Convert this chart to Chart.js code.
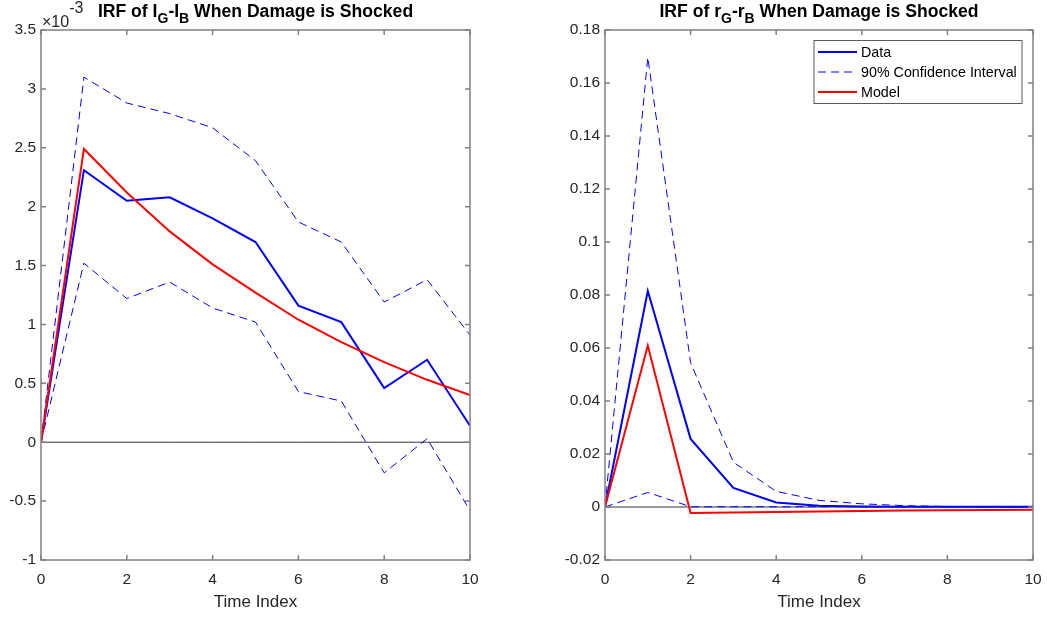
<!DOCTYPE html>
<html>
<head>
<meta charset="utf-8">
<script src="https://cdn.jsdelivr.net/npm/chart.js@4.4.1/dist/chart.umd.min.js"></script>
<style>
html, body { margin: 0; padding: 0; background: #fff; }
#wrap { position: relative; width: 1047px; height: 617px; overflow: hidden; }
canvas { position: absolute; top: 0; }
</style>
</head>
<body>
<div id="wrap">
  <canvas id="left" width="500" height="617" style="left:0px"></canvas>
  <canvas id="right" width="500" height="617" style="left:555px"></canvas>
</div>
<script>
// x axis (same for both panels)
const timeIndex = [0, 1, 2, 3, 4, 5, 6, 7, 8, 9, 10];

// left panel: I_G - I_B, values in units of 1e-3
const leftData  = [0, 2.31, 2.05, 2.08, 1.90, 1.70, 1.16, 1.02, 0.46, 0.70, 0.14];
const leftUpper = [0, 3.10, 2.88, 2.79, 2.67, 2.39, 1.87, 1.70, 1.19, 1.38, 0.91];
const leftLower = [0, 1.52, 1.22, 1.36, 1.14, 1.02, 0.43, 0.35, -0.26, 0.03, -0.58];
const leftModel = [0, 2.49, 2.12, 1.79, 1.51, 1.27, 1.04, 0.85, 0.68, 0.53, 0.40];

// right panel: r_G - r_B
const rightData  = [0, 0.0815, 0.0257, 0.0072, 0.0017, 0.0005, 0.0002, 0.0001, 0.0001, 0.0001, 0.0001];
const rightUpper = [0, 0.1697, 0.0544, 0.0169, 0.0059, 0.0025, 0.0012, 0.0005, 0.0002, 0.0001, 0.0001];
const rightLower = [0, 0.0055, 0.0001, 0.0001, 0.0001, 0.0001, 0.0001, 0.0001, 0.0001, 0.0001, 0.0001];
const rightModel = [0, 0.0609, -0.0023, -0.0021, -0.0019, -0.0017, -0.0015, -0.0013, -0.0012, -0.0011, -0.0010];

const zeroLine = [0, 0, 0, 0, 0, 0, 0, 0, 0, 0, 0];

const legendLabels = ['Data', '90% Confidence Interval', 'Model'];

const FONT = '"Liberation Sans", Arial, Helvetica, sans-serif';
const TEXT = '#262626';
const AXIS = '#808080';

const pts = arr => arr.map((v, i) => ({x: timeIndex[i], y: v}));

function makeDatasets(d, up, lo, mod) {
  return [
    {label: legendLabels[0], data: pts(d), borderColor: '#0000ff', borderWidth: 2, order: 2},
    {label: legendLabels[1], data: pts(up), borderColor: '#0000ff', borderWidth: 1, borderDash: [8, 5], order: 3},
    {label: '', data: pts(lo), borderColor: '#0000ff', borderWidth: 1, borderDash: [8, 5], order: 4},
    {label: legendLabels[2], data: pts(mod), borderColor: '#ff0000', borderWidth: 2, order: 1},
    {label: '', data: pts(zeroLine), borderColor: '#333333', borderWidth: 1, order: 5}
  ];
}

// axes box with inward ticks on all four sides
const framePlugin = {
  id: 'frame',
  afterDatasetsDraw(chart) {
    const {ctx, chartArea: a, scales: {x, y}} = chart;
    ctx.save();
    ctx.strokeStyle = AXIS;
    ctx.lineWidth = 1.5;
    ctx.strokeRect(a.left, a.top, a.right - a.left, a.bottom - a.top);
    ctx.beginPath();
    x.ticks.forEach(t => {
      const px = x.getPixelForValue(t.value);
      ctx.moveTo(px, a.bottom); ctx.lineTo(px, a.bottom - 5);
      ctx.moveTo(px, a.top); ctx.lineTo(px, a.top + 5);
    });
    y.ticks.forEach(t => {
      const py = y.getPixelForValue(t.value);
      ctx.moveTo(a.left, py); ctx.lineTo(a.left + 5, py);
      ctx.moveTo(a.right, py); ctx.lineTo(a.right - 5, py);
    });
    ctx.stroke();
    ctx.restore();
  }
};

// bold title with subscripts, plus optional exponent label
const titlePlugin = {
  id: 'irfTitle',
  afterDraw(chart, args, opts) {
    const {ctx, chartArea: a} = chart;
    const big = 'bold 17.6px ' + FONT, small = 'bold 14px ' + FONT;
    ctx.save();
    ctx.fillStyle = '#000';
    ctx.textBaseline = 'alphabetic';
    ctx.textAlign = 'left';
    let w = 0;
    opts.parts.forEach(p => { ctx.font = p[1] ? small : big; w += ctx.measureText(p[0]).width; });
    let x = (a.left + a.right) / 2 - w / 2;
    opts.parts.forEach(p => {
      ctx.font = p[1] ? small : big;
      ctx.fillText(p[0], x, p[1] ? 22.7 : 16.7);
      x += ctx.measureText(p[0]).width;
    });
    if (opts.exp) {
      ctx.fillStyle = TEXT;
      ctx.font = '16px ' + FONT;
      const base = '\u00d710';
      ctx.fillText(base, a.left + 1, 27.3);
      ctx.fillText(opts.exp, a.left + 1 + ctx.measureText(base).width, 13.3);
    }
    ctx.restore();
  }
};

// boxed legend inside the plot area
const boxLegendPlugin = {
  id: 'boxLegend',
  afterDraw(chart, args, opts) {
    if (!opts.show) return;
    const {ctx, chartArea: a} = chart;
    const items = chart.data.datasets.filter(d => d.label);
    const bx = a.right - 219, by = a.top + 10.5, bw = 208, bh = 63;
    ctx.save();
    ctx.fillStyle = '#fff';
    ctx.fillRect(bx, by, bw, bh);
    ctx.strokeStyle = '#5a5a5a';
    ctx.lineWidth = 1;
    ctx.strokeRect(bx, by, bw, bh);
    ctx.font = '14.3px ' + FONT;
    ctx.textBaseline = 'middle';
    ctx.textAlign = 'left';
    items.forEach((d, i) => {
      const yy = by + 11.5 + 20 * i;
      ctx.strokeStyle = d.borderColor;
      ctx.lineWidth = d.borderWidth;
      ctx.setLineDash(d.borderDash || []);
      ctx.beginPath();
      ctx.moveTo(bx + 4, yy); ctx.lineTo(bx + 43, yy);
      ctx.stroke();
      ctx.setLineDash([]);
      ctx.fillStyle = '#000';
      ctx.fillText(d.label, bx + 47, yy + 1);
    });
    ctx.restore();
  }
};

const fmt = v => String(parseFloat(Number(v).toFixed(4)));

function makeOptions(yMin, yMax, yStep, yWidth, padRight, parts, exp, showLegend) {
  return {
    responsive: false,
    animation: false,
    devicePixelRatio: 1,
    layout: {padding: {top: 30, right: padRight, left: 0, bottom: 0}},
    elements: {point: {radius: 0}, line: {tension: 0}},
    plugins: {
      legend: {display: false},
      tooltip: {enabled: false},
      irfTitle: {parts: parts, exp: exp},
      boxLegend: {show: showLegend}
    },
    scales: {
      x: {
        type: 'linear', min: 0, max: 10,
        grid: {display: false, drawTicks: false}, border: {display: false},
        ticks: {stepSize: 2, padding: 10, color: TEXT, font: {family: FONT, size: 15.5}, maxRotation: 0},
        title: {display: true, text: 'Time Index', color: TEXT, font: {family: FONT, size: 17}, padding: {top: 2, bottom: 4}},
        afterFit: s => { s.height = 57; }
      },
      y: {
        type: 'linear', min: yMin, max: yMax,
        grid: {display: false, drawTicks: false}, border: {display: false},
        ticks: {stepSize: yStep, padding: 5, color: TEXT, font: {family: FONT, size: 15.5}, callback: fmt},
        afterFit: s => { s.width = yWidth; }
      }
    }
  };
}

new Chart(document.getElementById('left'), {
  type: 'line',
  data: {datasets: makeDatasets(leftData, leftUpper, leftLower, leftModel)},
  options: makeOptions(-1, 3.5, 0.5, 41, 30,
    [['IRF of I', 0], ['G', 1], ['-I', 0], ['B', 1], [' When Damage is Shocked', 0]], '-3', false),
  plugins: [framePlugin, titlePlugin, boxLegendPlugin]
});

new Chart(document.getElementById('right'), {
  type: 'line',
  data: {datasets: makeDatasets(rightData, rightUpper, rightLower, rightModel)},
  options: makeOptions(-0.02, 0.18, 0.02, 50, 22,
    [['IRF of r', 0], ['G', 1], ['-r', 0], ['B', 1], [' When Damage is Shocked', 0]], null, true),
  plugins: [framePlugin, titlePlugin, boxLegendPlugin]
});
</script>
</body>
</html>
